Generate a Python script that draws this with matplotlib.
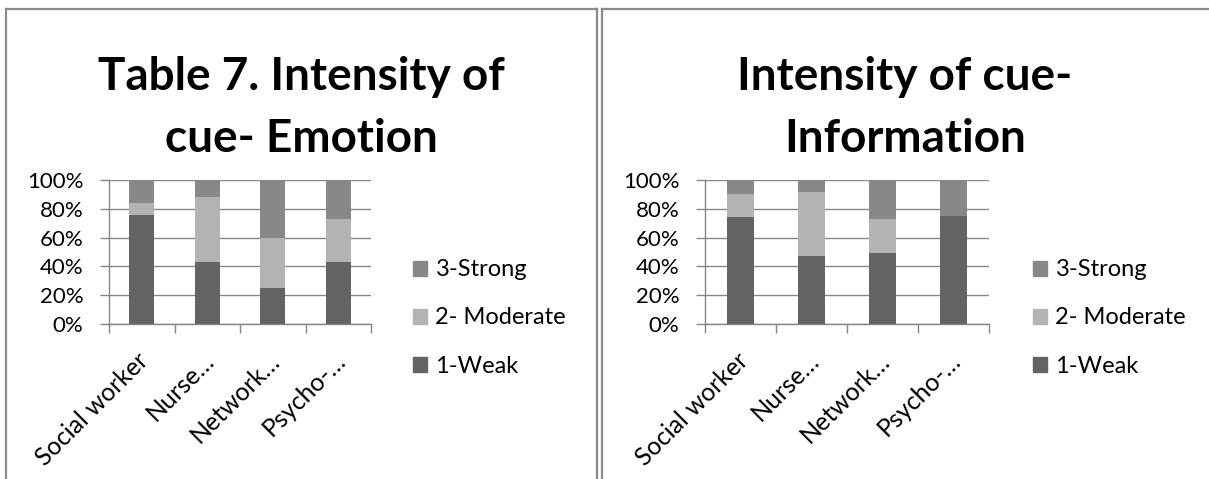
import matplotlib.pyplot as plt
from matplotlib.patches import Patch
from matplotlib.lines import Line2D
from matplotlib.ticker import PercentFormatter

categories = ['Social worker', 'Nurse…', 'Network…', 'Psycho-…']
series_names = ['1-Weak', '2- Moderate', '3-Strong']

emotion_weak = [0.76, 0.43, 0.25, 0.43]
emotion_moderate = [0.08, 0.45, 0.35, 0.30]
emotion_strong = [0.16, 0.12, 0.40, 0.27]

info_weak = [0.74, 0.47, 0.49, 0.75]
info_moderate = [0.16, 0.45, 0.24, 0.00]
info_strong = [0.10, 0.08, 0.27, 0.25]

titles = ['Table 7. Intensity of\ncue- Emotion', 'Intensity of cue-\nInformation']

colors = ['#636363', '#b3b3b3', '#888888']
grid_c = '#868686'
plt.rcParams['font.family'] = ['Lato', 'DejaVu Sans']

W, H = 1209, 479
fig = plt.figure(figsize=(W / 100, H / 100), dpi=100)


def fx(px):
    return px / W


def fy(py):
    return 1 - py / H


# panel borders
for x0, x1 in [(6, 597), (602, 1215)]:
    fig.add_artist(Line2D([fx(x0), fx(x0)], [fy(8.5), fy(485)], color='#8a8a8a', lw=1.6))
    fig.add_artist(Line2D([fx(x0), fx(x1)], [fy(8.5), fy(8.5)], color='#8a8a8a', lw=1.6))
    if x1 < W:
        fig.add_artist(Line2D([fx(x1), fx(x1)], [fy(8.5), fy(485)], color='#8a8a8a', lw=1.6))

panels = [
    (109, 371, 301, 413, emotion_weak, emotion_moderate, emotion_strong),
    (705, 989, 905, 1033, info_weak, info_moderate, info_strong),
]

for i, (left, right, tcx, legx, weak, mod, strong) in enumerate(panels):
    ax = fig.add_axes([fx(left), fy(324), fx(right - left), (324 - 180) / H])
    xs = list(range(len(categories)))
    ax.bar(xs, weak, width=0.38, color=colors[0], zorder=3)
    ax.bar(xs, mod, width=0.38, bottom=weak, color=colors[1], zorder=3)
    b3 = [w + m for w, m in zip(weak, mod)]
    ax.bar(xs, strong, width=0.38, bottom=b3, color=colors[2], zorder=3)

    ax.set_xlim(-0.5, len(categories) - 0.5)
    ax.set_ylim(0, 1)
    ax.set_yticks([0, 0.2, 0.4, 0.6, 0.8, 1.0])
    ax.yaxis.set_major_formatter(PercentFormatter(1.0, decimals=0))
    ax.grid(axis='y', color=grid_c, lw=1.0, zorder=0)
    for s in ['top', 'right']:
        ax.spines[s].set_visible(False)
    for s in ['bottom', 'left']:
        ax.spines[s].set_color(grid_c)
        ax.spines[s].set_linewidth(1.0)
    ax.tick_params(axis='y', length=6.5, color=grid_c, width=1.0, labelsize=16, pad=12)

    ax.set_xticks([x - 0.5 for x in range(len(categories) + 1)])
    ax.set_xticklabels([])
    ax.tick_params(axis='x', length=6.5, color=grid_c, width=1.0)
    for x, lab in zip(xs, categories):
        ax.text(x + 0.05, -0.23, lab, rotation=45, rotation_mode='anchor',
                ha='right', va='center', fontsize=18, transform=ax.get_xaxis_transform())

    fig.text(fx(tcx), fy(108), titles[i], ha='center', va='center',
             fontsize=33, fontweight='bold', linespacing=1.6)

    handles = [Patch(color=colors[2]), Patch(color=colors[1]), Patch(color=colors[0])]
    labels = [series_names[2], series_names[1], series_names[0]]
    fig.legend(handles, labels, loc='center left', bbox_to_anchor=(fx(legx), fy(318)),
               frameon=False, fontsize=17, handlelength=0.6, handleheight=0.6,
               handletextpad=0.35, labelspacing=1.15, borderpad=0, borderaxespad=0)

fig.savefig('out.png', dpi=100)
